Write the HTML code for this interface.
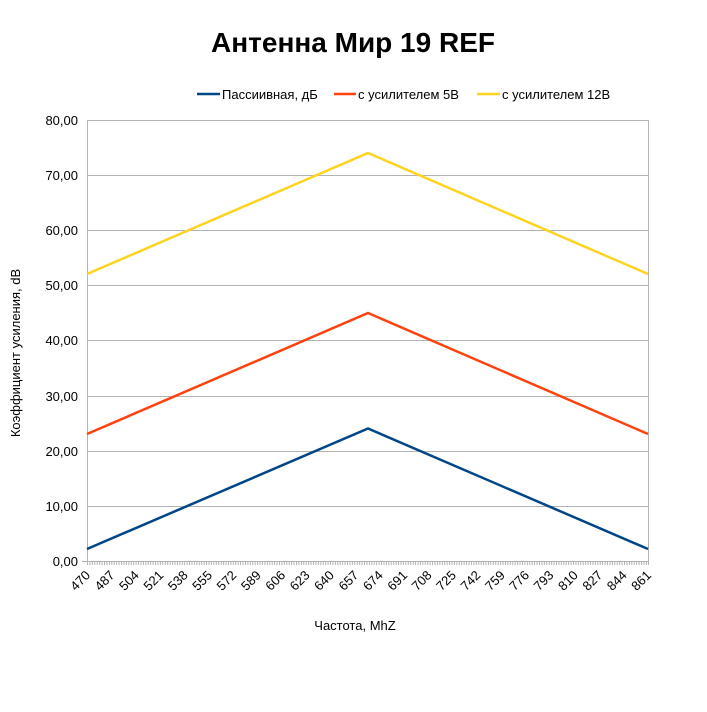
<!DOCTYPE html>
<html><head><meta charset="utf-8"><style>
body{margin:0;background:#fff;}
svg text{font-family:"Liberation Sans",sans-serif;}
</style></head><body>
<svg width="707" height="707" xmlns="http://www.w3.org/2000/svg">
<rect width="707" height="707" fill="#fff"/>
<text x="353" y="52" font-size="28" font-weight="bold" text-anchor="middle">Антенна Мир 19 REF</text>
<g font-size="13">
<line x1="197" y1="94" x2="220" y2="94" stroke="#004586" stroke-width="2.5"/>
<text x="222" y="99">Пассиивная, дБ</text>
<line x1="334" y1="94" x2="356" y2="94" stroke="#ff420e" stroke-width="2.5"/>
<text x="358" y="99">с усилителем 5В</text>
<line x1="477" y1="94" x2="500" y2="94" stroke="#ffd320" stroke-width="2.5"/>
<text x="502" y="99">с усилителем 12В</text>
</g>
<g stroke="#b3b3b3" stroke-width="1">
<line x1="87" y1="120.5" x2="648" y2="120.5"/>
<line x1="87" y1="175.5" x2="648" y2="175.5"/>
<line x1="87" y1="230.5" x2="648" y2="230.5"/>
<line x1="87" y1="285.5" x2="648" y2="285.5"/>
<line x1="87" y1="340.5" x2="648" y2="340.5"/>
<line x1="87" y1="396.5" x2="648" y2="396.5"/>
<line x1="87" y1="451.5" x2="648" y2="451.5"/>
<line x1="87" y1="506.5" x2="648" y2="506.5"/>
<line x1="82" y1="561.5" x2="648" y2="561.5"/>
<line x1="87.5" y1="120" x2="87.5" y2="565"/>
<line x1="648.5" y1="120" x2="648.5" y2="565"/>
</g>
<line x1="87" y1="563.5" x2="648" y2="563.5" stroke="#b3b3b3" stroke-width="3" stroke-dasharray="1 1.43"/>
<g font-size="13" text-anchor="end">
<text x="78" y="125">80,00</text><text x="78" y="180">70,00</text><text x="78" y="235">60,00</text>
<text x="78" y="290">50,00</text><text x="78" y="345">40,00</text><text x="78" y="401">30,00</text>
<text x="78" y="456">20,00</text><text x="78" y="511">10,00</text><text x="78" y="566">0,00</text>
</g>
<text transform="translate(20,353) rotate(-90)" font-size="13" text-anchor="middle">Коэффициент усиления, dB</text>
<text x="355" y="630" font-size="13" text-anchor="middle">Частота, MhZ</text>
<polyline points="87,549 368,428.5 648,549" fill="none" stroke="#004586" stroke-width="2.5"/>
<polyline points="87,434 368,313 648,434" fill="none" stroke="#ff420e" stroke-width="2.5"/>
<polyline points="87,274 368,153 648,274" fill="none" stroke="#ffd320" stroke-width="2.5"/>
<g font-size="13" text-anchor="end">
<text transform="translate(91,576) rotate(-45)">470</text>
<text transform="translate(115.4,576) rotate(-45)">487</text>
<text transform="translate(139.8,576) rotate(-45)">504</text>
<text transform="translate(164.2,576) rotate(-45)">521</text>
<text transform="translate(188.6,576) rotate(-45)">538</text>
<text transform="translate(213,576) rotate(-45)">555</text>
<text transform="translate(237.3,576) rotate(-45)">572</text>
<text transform="translate(261.7,576) rotate(-45)">589</text>
<text transform="translate(286.1,576) rotate(-45)">606</text>
<text transform="translate(310.5,576) rotate(-45)">623</text>
<text transform="translate(334.9,576) rotate(-45)">640</text>
<text transform="translate(359.3,576) rotate(-45)">657</text>
<text transform="translate(383.7,576) rotate(-45)">674</text>
<text transform="translate(408.1,576) rotate(-45)">691</text>
<text transform="translate(432.5,576) rotate(-45)">708</text>
<text transform="translate(456.9,576) rotate(-45)">725</text>
<text transform="translate(481.3,576) rotate(-45)">742</text>
<text transform="translate(505.7,576) rotate(-45)">759</text>
<text transform="translate(530,576) rotate(-45)">776</text>
<text transform="translate(554.4,576) rotate(-45)">793</text>
<text transform="translate(578.8,576) rotate(-45)">810</text>
<text transform="translate(603.2,576) rotate(-45)">827</text>
<text transform="translate(627.6,576) rotate(-45)">844</text>
<text transform="translate(652,576) rotate(-45)">861</text>
</g>
</svg>
</body></html>
